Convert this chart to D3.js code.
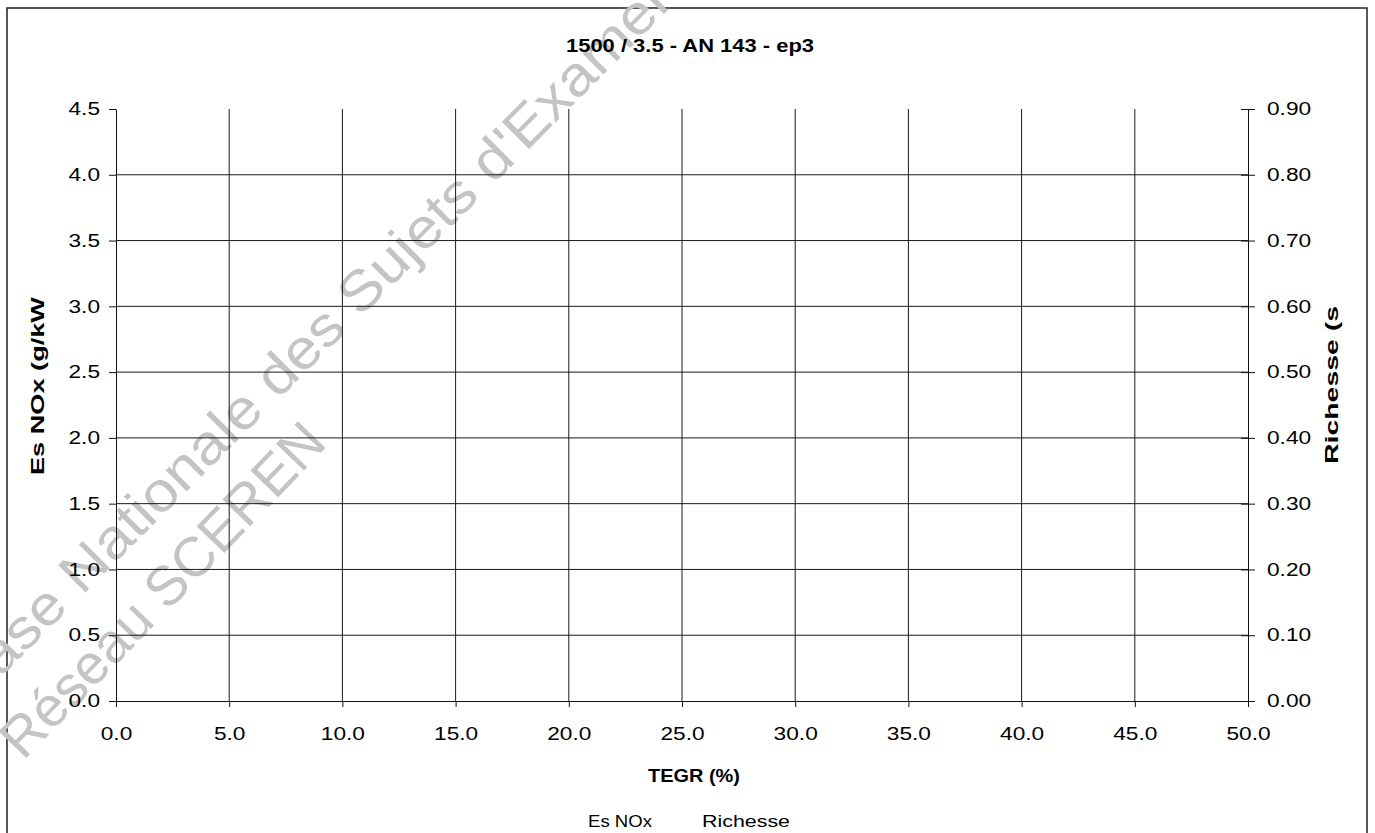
<!DOCTYPE html>
<html>
<head>
<meta charset="utf-8">
<script src="https://cdn.jsdelivr.net/npm/d3@7"></script>
<style>
  body { margin: 0; background: #fff; }
  svg text { font-family: "Liberation Sans", Arial, sans-serif; }
</style>
</head>
<body>
<div id="chart"></div>
<script>
const W = 1375, H = 833;
const MARGIN = {TOP: 109, LEFT: 116, RIGHT: 127, BOTTOM: 132};

const title = "1500 / 3.5 - AN 143 - ep3";
const xTitle = "TEGR (%)";
const yLeftTitle = "Es NOx (g/kW";
const yRightTitle = "Richesse (s";
const seriesNames = ["Es NOx", "Richesse"];
const xTicks = [0, 5, 10, 15, 20, 25, 30, 35, 40, 45, 50];
const yLeftTicks = [0, 0.5, 1, 1.5, 2, 2.5, 3, 3.5, 4, 4.5];
const yRightTicks = [0, 0.1, 0.2, 0.3, 0.4, 0.5, 0.6, 0.7, 0.8, 0.9];
// no data points in the chart, both series are empty
const esNox = [];
const richesse = [];

const svg = d3.select("#chart").append("svg")
  .attr("width", W).attr("height", H);

// the scanned chart is a bit wider than normal Arial, stretch texts
function stretch(sel, k) {
  sel.each(function() {
    const w = this.getComputedTextLength();
    d3.select(this).attr("textLength", w * k).attr("lengthAdjust", "spacingAndGlyphs");
  });
}

// frame
svg.append("rect")
  .attr("x", 7).attr("y", 8)
  .attr("width", 1360).attr("height", 840)
  .attr("fill", "none").attr("stroke", "#222").attr("stroke-width", 1.5);

const x = d3.scaleLinear().domain([0, 50]).range([MARGIN.LEFT, W - MARGIN.RIGHT]);
const yL = d3.scaleLinear().domain([0, 4.5]).range([H - MARGIN.BOTTOM, MARGIN.TOP]);
const yR = d3.scaleLinear().domain([0, 0.9]).range([H - MARGIN.BOTTOM, MARGIN.TOP]);

// watermark (under the grid)
const wm = svg.append("g").attr("fill", "#c4c4c4")
  .style("font-family", "Lato, 'DejaVu Sans', sans-serif").attr("font-weight", 300);
wm.append("text")
  .attr("transform", "translate(328,350) rotate(-45)")
  .attr("text-anchor", "middle").attr("font-size", 56)
  .attr("textLength", 1010).attr("lengthAdjust", "spacingAndGlyphs")
  .text("Base Nationale des Sujets d'Examen");
wm.append("text")
  .attr("transform", "translate(176,603) rotate(-46)")
  .attr("text-anchor", "middle").attr("font-size", 56)
  .attr("textLength", 440).attr("lengthAdjust", "spacingAndGlyphs")
  .text("Réseau SCEREN");

// grid
const grid = svg.append("g").attr("stroke", "#1a1a1a").attr("stroke-width", 1);
grid.selectAll(".hg").data(yLeftTicks.filter(d => d > 0 && d < 4.5))
  .enter().append("line")
  .attr("x1", x(0)).attr("x2", x(50))
  .attr("y1", d => yL(d)).attr("y2", d => yL(d));
grid.selectAll(".vg").data(xTicks.filter(d => d > 0 && d < 50))
  .enter().append("line")
  .attr("x1", d => x(d)).attr("x2", d => x(d))
  .attr("y1", yL(4.5)).attr("y2", yL(0));

// axes
const xAxis = svg.append("g")
  .attr("transform", `translate(0,${yL(0)})`)
  .call(d3.axisBottom(x).tickValues(xTicks).tickFormat(d3.format(".1f"))
    .tickSizeInner(6).tickSizeOuter(0).tickPadding(20));

const yAxisL = svg.append("g")
  .attr("transform", `translate(${x(0)},0)`)
  .call(d3.axisLeft(yL).tickValues(yLeftTicks).tickFormat(d3.format(".1f"))
    .tickSizeInner(7).tickSizeOuter(0).tickPadding(9));

const yAxisR = svg.append("g")
  .attr("transform", `translate(${x(50)},0)`)
  .call(d3.axisRight(yR).tickValues(yRightTicks).tickFormat(d3.format(".2f"))
    .tickSizeInner(7).tickSizeOuter(0).tickPadding(12));
yAxisR.selectAll(".tick line").attr("x1", -7);

[xAxis, yAxisL, yAxisR].forEach(g => {
  g.selectAll("path, line").attr("stroke", "#111").attr("stroke-width", 1);
  g.selectAll("text").attr("font-size", 18).attr("fill", "#000")
    .style("font-family", "'Liberation Sans', Arial, sans-serif");
  stretch(g.selectAll("text"), 1.26);
});

// titles
svg.append("text")
  .attr("x", 690).attr("y", 52)
  .attr("text-anchor", "middle")
  .attr("font-size", 18).attr("font-weight", "bold")
  .attr("textLength", 248).attr("lengthAdjust", "spacingAndGlyphs")
  .text(title);

svg.append("text")
  .attr("x", 694).attr("y", 782)
  .attr("text-anchor", "middle")
  .attr("font-size", 18).attr("font-weight", "bold")
  .attr("textLength", 92).attr("lengthAdjust", "spacingAndGlyphs")
  .text(xTitle);

svg.append("text")
  .attr("transform", `translate(44,386) rotate(-90)`)
  .attr("text-anchor", "middle")
  .attr("font-size", 19).attr("font-weight", "bold")
  .attr("textLength", 178).attr("lengthAdjust", "spacingAndGlyphs")
  .text(yLeftTitle);

svg.append("text")
  .attr("transform", `translate(1338,385) rotate(-90)`)
  .attr("text-anchor", "middle")
  .attr("font-size", 19).attr("font-weight", "bold")
  .attr("textLength", 158).attr("lengthAdjust", "spacingAndGlyphs")
  .text(yRightTitle);

// legend (series have no points, only names show)
const legendX = [620, 746];
const legendW = [64, 88];
svg.selectAll(".legend").data(seriesNames)
  .enter().append("text")
  .attr("x", (d, i) => legendX[i]).attr("y", 827)
  .attr("text-anchor", "middle")
  .attr("font-size", 17)
  .attr("textLength", (d, i) => legendW[i]).attr("lengthAdjust", "spacingAndGlyphs")
  .text(d => d);
</script>
</body>
</html>
